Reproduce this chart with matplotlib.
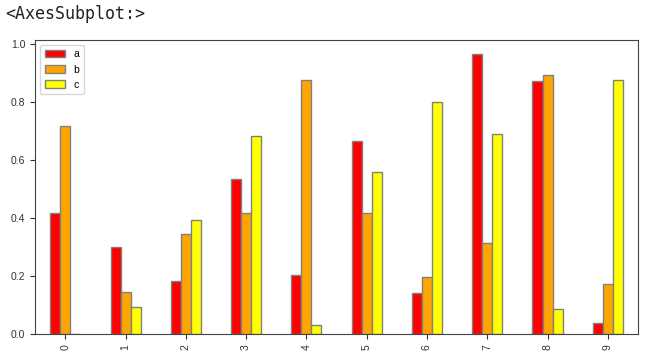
import numpy as np
import pandas as pd
import matplotlib
matplotlib.use("Agg")
import matplotlib.pyplot as plt

# values
a = [0.417, 0.300, 0.183, 0.535, 0.203, 0.666, 0.141, 0.966, 0.872, 0.038]
b = [0.719, 0.145, 0.345, 0.417, 0.876, 0.417, 0.197, 0.313, 0.893, 0.172]
c = [0.000, 0.093, 0.393, 0.683, 0.031, 0.559, 0.800, 0.690, 0.086, 0.876]

df = pd.DataFrame({"a": a, "b": b, "c": c})

plt.rcParams["font.family"] = ["Liberation Sans", "DejaVu Sans"]
plt.rcParams["font.size"] = 7.5

fig = plt.figure(figsize=(6.51, 3.57), dpi=100)
ax = fig.add_axes([0.054, 0.064, 0.926, 0.824])
df.plot(kind="bar", ax=ax, color=["red", "orange", "yellow"], edgecolor="gray")

ax.set_ylim(0, 1.015)
for s in ax.spines.values():
    s.set_color("#444444")
ax.tick_params(colors="#333333", labelsize=7.5)
ax.legend(loc="upper left", fontsize=7.5, edgecolor="#cccccc")

fig.text(0.008, 0.96, "<AxesSubplot:>", family="DejaVu Sans Mono",
         fontsize=12, color="#222222", va="center")

fig.savefig("out.png", dpi=100)
